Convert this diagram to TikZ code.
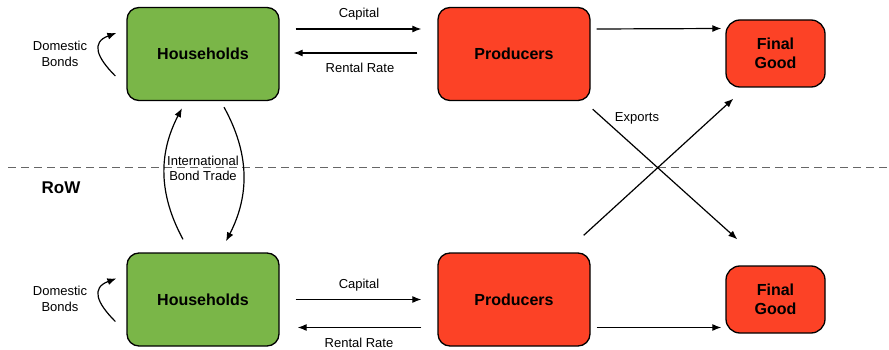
\documentclass[tikz,border=0pt]{standalone}
\usepackage{fontspec}
\setmainfont{Liberation Sans}
\usetikzlibrary{arrows.meta}
\definecolor{hhgreen}{RGB}{122,182,72}
\definecolor{prred}{RGB}{252,66,38}

\begin{document}
\begin{tikzpicture}[x=1pt, y=1pt,
  box/.style={draw=black, line width=1.3pt, rounded corners=12pt, minimum width=152pt, minimum height=93pt, inner sep=0pt, align=center, font=\fontsize{16}{19}\selectfont\bfseries},
  goodbox/.style={box, fill=prred, minimum width=99pt, minimum height=67pt, rounded corners=14pt},
  lbl/.style={align=center, inner sep=0pt, font=\fontsize{13}{15.5}\selectfont},
  arr/.style={-{Latex[length=9pt,width=7pt]}, line width=1.2pt}]
  \useasboundingbox (0,0) rectangle (889,-350);
  % home economy
  \node [box, fill=hhgreen] (hh1) at (203,-54) {Households};
  \node [box, fill=prred] (pr1) at (514,-54) {Producers};
  \node [goodbox] (fg1) at (775.5,-53.5) {Final\\Good};
  % rest of the world
  \node [box, fill=hhgreen] (hh2) at (203,-299.5) {Households};
  \node [box, fill=prred] (pr2) at (514,-299.5) {Producers};
  \node [goodbox] (fg2) at (775.5,-299.5) {Final\\Good};
  % border
  \coordinate (bl) at (8,-167);
  \coordinate (br) at (889,-167);
  \draw [dash pattern=on 8pt off 5pt, gray!80!black, line width=0.9pt] (bl) -- (br);
  \node [lbl, font=\fontsize{17}{20}\selectfont\bfseries] (row) at (61,-188) {RoW};
  % capital market, top
  \draw [arr] ([xshift=16pt,yshift=25pt]hh1.east) -- ([xshift=-16pt,yshift=25pt]pr1.west);
  \draw [arr] ([xshift=-20pt,yshift=1pt]pr1.west) -- ([xshift=14pt,yshift=1pt]hh1.east);
  \node [lbl] (cap1) at (359,-14) {Capital};
  \node [lbl] (rr1) at (360,-68) {Rental Rate};
  \draw [arr] ([xshift=6pt,yshift=25pt]pr1.east) -- ([xshift=-4pt,yshift=25pt]fg1.west);
  % capital market, bottom
  \draw [arr] ([xshift=16pt,yshift=0pt]hh2.east) -- ([xshift=-16pt,yshift=0pt]pr2.west);
  \draw [arr] ([xshift=-16pt,yshift=-28pt]pr2.west) -- ([xshift=18pt,yshift=-28pt]hh2.east);
  \node [lbl] (cap2) at (359,-285) {Capital};
  \node [lbl] (rr2) at (359,-343) {Rental Rate};
  \draw [arr] ([xshift=6pt,yshift=-28pt]pr2.east) -- ([xshift=-4pt,yshift=-28pt]fg2.west);
  % exports
  \draw [arr] ([xshift=2pt,yshift=-8pt]pr1.south east) -- ([xshift=12pt,yshift=26pt]fg2.north west);
  \draw [arr] ([xshift=-7pt,yshift=17pt]pr2.north east) -- ([xshift=8pt,yshift=-11pt]fg1.south west);
  \node [lbl] (exp) at (637,-118) {Exports};
  % domestic bonds
  \draw [arr] ([xshift=-11pt,yshift=-22pt]hh1.west) to[out=135,in=200,looseness=1.6] ([xshift=-10pt,yshift=21pt]hh1.west);
  \node [lbl] (db1) at (60,-54) {Domestic\\Bonds};
  \draw [arr] ([xshift=-11pt,yshift=-22pt]hh2.west) to[out=135,in=200,looseness=1.6] ([xshift=-10pt,yshift=21pt]hh2.west);
  \node [lbl] (db2) at (60,-299) {Domestic\\Bonds};
  % international bond trade
  \draw [arr] ([xshift=-20pt,yshift=13pt]hh2.north) to[bend left=28] ([xshift=-21pt,yshift=-7pt]hh1.south);
  \draw [arr] ([xshift=21pt,yshift=-6pt]hh1.south) to[bend left=28] ([xshift=23pt,yshift=11pt]hh2.north);
  \node [lbl] (ibt) at (203,-168.5) {International\\Bond Trade};
\end{tikzpicture}
\end{document}
